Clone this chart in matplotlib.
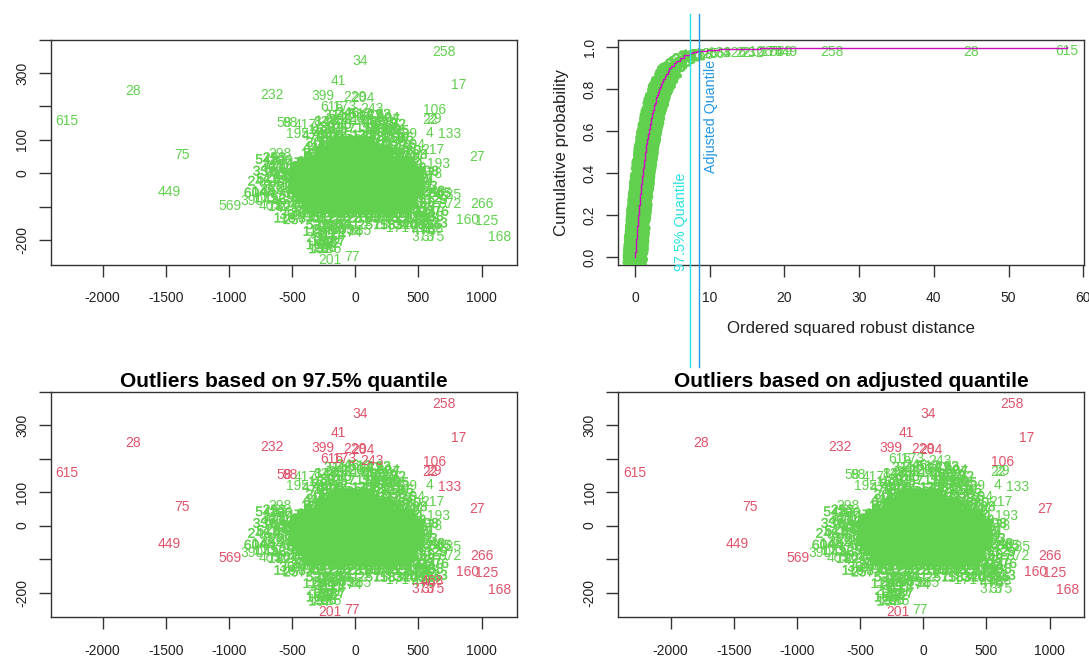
import matplotlib
matplotlib.use("Agg")
import matplotlib.pyplot as plt
import matplotlib.patheffects as pe

plt.rcParams["font.family"] = ["Liberation Sans", "DejaVu Sans"]

W, H = 1089, 656
GREEN = "#61D04F"
RED = "#DF536B"
MAGENTA = "#CD0BBC"
CYAN = "#28E2E5"
BLUE = "#2297E6"
DARK = "#333333"

# points with a readable label: (label, x, y)
named_points = [
    ("258", 702, 368), ("34", 37, 339), ("41", -134, 280), ("17", 818, 267),
    ("232", -662, 239), ("399", -253, 235), ("229", -2, 232), ("204", 63, 230),
    ("106", 631, 195), ("22", 591, 165), ("29", 620, 168), ("4", 586, 125),
    ("133", 744, 121), ("27", 961, 54), ("217", 615, 75), ("193", 657, 32),
    ("178", 599, 2), ("185", 750, -59), ("372", 750, -86), ("266", 1000, -86),
    ("160", 887, -134), ("125", 1040, -137), ("168", 1140, -187), ("373", 538, -185),
    ("375", 617, -185), ("468", 610, -162), ("385", 37, -168), ("171", 336, -158),
    ("77", -24, -247), ("201", -200, -254), ("285", -200, -221), ("569", -992, -92),
    ("390", -815, -78), ("403", -675, -93), ("449", -1473, -51), ("75", -1370, 60),
    ("28", -1763, 251), ("615", -2285, 162), ("58", -560, 155), ("98", -517, 155),
    ("195", -454, 123), ("417", -398, 149), ("82", -266, 158), ("616", -187, 202),
    ("173", -82, 202), ("189", 394, 123), ("194", 458, 89), ("243", 130, 197),
    ("367", 270, 165), ("298", -600, 62), ("236", -300, -190),
]

outliers_975 = ["258", "34", "41", "17", "232", "399", "229", "204", "106", "22",
                "29", "133", "27", "266", "160", "125", "168", "373", "375", "468",
                "201", "77", "569", "449", "75", "28", "615", "58", "98", "616",
                "173", "243"]
outliers_adjusted = ["258", "34", "41", "17", "232", "399", "229", "204", "106",
                     "27", "266", "160", "125", "168", "201", "569", "449", "75",
                     "28", "615"]

# solid centre of the cloud, read row by row
core_row_y = [95, 80, 65, 50, 35, 20, 5, -10, -25, -40, -55, -70, -85, -100]
core_row_x = [
    [-80, -10, 60],
    [-130, -60, 10, 80],
    [-220, -150, -80, -10, 60, 130, 200],
    [-310, -235, -160, -85, -15, 60, 130, 205, 275],
    [-370, -290, -215, -140, -65, 10, 85, 155, 230, 300, 375],
    [-410, -335, -255, -180, -105, -30, 45, 115, 190, 260, 335, 405],
    [-435, -360, -280, -205, -125, -50, 25, 100, 170, 245, 315, 390, 445],
    [-420, -340, -265, -185, -110, -35, 40, 120, 195, 270, 340, 415],
    [-450, -375, -295, -220, -140, -60, 15, 90, 165, 235, 310, 385, 455],
    [-430, -350, -270, -195, -115, -40, 35, 110, 185, 260, 330, 405],
    [-400, -325, -245, -170, -90, -15, 60, 135, 210, 285, 355, 430],
    [-375, -300, -220, -145, -65, 10, 85, 160, 235, 305, 380],
    [-350, -270, -195, -120, -40, 30, 105, 180, 255, 330, 400],
    [-320, -245, -165, -90, -15, 60, 135, 210, 285, 360],
]

# edges of the cloud: dome, left wing, right side, lower band and tail
edge_points = [
    (-160, 178), (-60, 185), (40, 182), (120, 176), (190, 180), (260, 170),
    (-230, 160), (-120, 165), (-20, 170), (60, 162), (150, 158), (240, 155), (310, 150),
    (-280, 135), (-190, 142), (-90, 138), (90, 140), (170, 136), (265, 138), (335, 132),
    (-330, 118), (-240, 112), (-150, 122), (-60, 116), (60, 118), (110, 118), (200, 114), (290, 120), (370, 110),
    (-300, 95), (-210, 100), (-130, 92), (-40, 104), (50, 96), (140, 102), (220, 92), (310, 98), (390, 90),
    (-260, 78), (-170, 82), (-90, 74), (0, 84), (80, 76), (170, 82), (250, 72), (340, 80), (430, 72),
    (-340, 62), (-220, 64), (-120, 58), (-20, 66), (100, 60), (200, 62), (300, 60), (400, 56), (480, 60),
    (-250, 128), (-120, 150), (150, 148), (230, 130), (-180, 110), (120, 86), (300, 108), (-320, 82), (360, 64),
    (-700, 45), (-640, 50), (-590, 42), (-720, 10), (-660, 18), (-600, 22), (-760, -20),
    (-690, -12), (-620, -8), (-570, 5), (-790, -55), (-730, -50), (-660, -45), (-590, -38),
    (-710, -70), (-640, -75), (-575, -70), (-600, -95), (-545, -90), (-510, -120),
    (-480, -135), (-560, -130), (-530, -25), (-520, 5), (-490, 20), (-455, 35), (-510, -40),
    (-480, -55), (-455, -70), (-430, -85), (-400, -100), (-500, -10), (-640, 30), (-560, -15),
    (560, -35), (590, -60), (620, -50), (540, -85), (600, -95), (640, -75), (560, -115),
    (610, -125), (650, -110), (525, -150), (590, -150), (640, -145), (670, -55),
    (520, -25), (490, -10), (475, -40), (500, -55), (450, -70), (470, -85), (435, -100),
    (470, 20), (460, 5), (420, 50), (445, 35), (500, -120), (540, -10), (570, 10),
    (-420, -115), (-340, -115), (-260, -115), (-180, -115), (-105, -115), (-30, -115),
    (45, -115), (120, -115), (195, -115), (270, -115), (345, -115), (420, -115),
    (-360, -130), (-280, -130), (-200, -130), (-125, -130), (-50, -130), (25, -130),
    (100, -130), (175, -130), (250, -130), (325, -130), (400, -130), (480, -130), (540, -130),
    (-300, -150), (-220, -150), (-130, -150), (-60, -150), (110, -150), (230, -150),
    (290, -150), (400, -150), (470, -150), (540, -165),
    (-260, -200), (-230, -175), (-190, -180), (-280, -222), (-240, -218), (-210, -205), (-330, -170),
    (-170, -160), (-100, -165), (-40, -172), (-250, -165), (-300, -210), (-170, -200),
]

core_labels = ["311", "246", "512", "287", "193", "604", "148", "355", "220", "171",
               "436", "529", "182", "164", "391", "257", "118", "583", "340", "205",
               "476", "189", "312", "551", "137", "268", "422", "115", "596", "303",
               "174", "248", "160", "487", "329", "111", "538", "276", "402", "156",
               "133", "565", "214", "349", "497", "126", "380", "152", "241", "608",
               "163", "295", "444", "185", "521", "198", "367", "130", "459", "238",
               "576", "101", "318", "415", "167", "543", "253", "186", "331", "490"]

# ordered squared robust distance against cumulative probability
cdf_distance = [0.0, 0.03, 0.05, 0.08, 0.10, 0.13, 0.16, 0.18, 0.21, 0.24, 0.27, 0.30,
                0.33, 0.35, 0.38, 0.42, 0.45, 0.48, 0.51, 0.54, 0.58, 0.61, 0.64, 0.68,
                0.71, 0.75, 0.79, 0.82, 0.86, 0.90, 0.94, 0.98, 1.02, 1.06, 1.11, 1.15,
                1.20, 1.24, 1.29, 1.34, 1.39, 1.44, 1.49, 1.54, 1.60, 1.65, 1.71, 1.77,
                1.83, 1.90, 1.96, 2.03, 2.10, 2.17, 2.25, 2.33, 2.41, 2.49, 2.58, 2.68,
                2.77, 2.88, 2.98, 3.10, 3.22, 3.35, 3.49, 3.64, 3.79, 3.97, 4.16, 4.37,
                4.61, 4.87, 5.18, 5.55, 5.99, 6.57, 7.38, 7.8, 8.3, 8.9, 9.6, 10.4, 11.3,
                12.3, 13.4, 14.5, 15.6, 16.8, 17.8, 18.7, 19.5, 20.2, 26.4, 45.0, 57.8]
cdf_prob = [0.0, 0.0125, 0.025, 0.0375, 0.05, 0.0625, 0.075, 0.0875, 0.10, 0.1125, 0.125,
            0.1375, 0.15, 0.1625, 0.175, 0.1875, 0.20, 0.2125, 0.225, 0.2375, 0.25, 0.2625,
            0.275, 0.2875, 0.30, 0.3125, 0.325, 0.3375, 0.35, 0.3625, 0.375, 0.3875, 0.40,
            0.4125, 0.425, 0.4375, 0.45, 0.4625, 0.475, 0.4875, 0.50, 0.5125, 0.525, 0.5375,
            0.55, 0.5625, 0.575, 0.5875, 0.60, 0.6125, 0.625, 0.6375, 0.65, 0.6625, 0.675,
            0.6875, 0.70, 0.7125, 0.725, 0.7375, 0.75, 0.7625, 0.775, 0.7875, 0.80, 0.8125,
            0.825, 0.8375, 0.85, 0.8625, 0.875, 0.8875, 0.90, 0.9125, 0.925, 0.9375, 0.95,
            0.9625, 0.975, 0.98, 0.983, 0.985, 0.987, 0.989, 0.991, 0.992, 0.993, 0.994,
            0.995, 0.996, 0.997, 0.9975, 0.998, 0.9985, 0.9988, 0.9994, 1.0]
cdf_tail_labels = ["27", "168", "125", "266", "133", "4", "126", "22", "232", "106",
                   "17", "75", "569", "449", "258", "28", "615"]

quantile_975 = 7.38
quantile_adjusted = 8.6

scatter_xticks = [-2000, -1500, -1000, -500, 0, 500, 1000]
scatter_yticks = [-200, -100, 0, 100, 200, 300, 400]
scatter_yticklabels = ["-200", "", "0", "100", "", "300", ""]
cdf_xticks = [0, 10, 20, 30, 40, 50, 60]
cdf_yticks = [0.0, 0.2, 0.4, 0.6, 0.8, 1.0]

fig = plt.figure(figsize=(W / 100, H / 100), dpi=100)


def panel(left, right, top, bottom):
    ax = fig.add_axes([left / W, 1 - bottom / H, (right - left) / W, (bottom - top) / H])
    for s in ax.spines.values():
        s.set_linewidth(1.0)
        s.set_color(DARK)
    ax.tick_params(axis="x", length=8.5, width=1.0, color=DARK, labelsize=10,
                   pad=10.5, labelcolor="#222222")
    ax.tick_params(axis="y", length=8.5, width=1.0, color=DARK, labelsize=10,
                   pad=7, labelcolor="#222222")
    return ax


def label_at(ax, txt, x, y, color, drop=0.0, stroke=0.0):
    t = ax.annotate(txt, (x, y), xytext=(0, -drop), textcoords="offset points",
                    ha="center", va="center_baseline", fontsize=10, color=color,
                    clip_on=True, annotation_clip=False)
    if stroke:
        # piled-up labels merge into a solid mass in the original
        t.set_path_effects([pe.withStroke(linewidth=stroke, foreground=color)])


def scatter_panel(left, right, top, bottom, xlim, ylim, outliers, title=None):
    ax = panel(left, right, top, bottom)
    ax.set_xlim(xlim)
    ax.set_ylim(ylim)
    i = 0
    for x, y in edge_points:
        label_at(ax, core_labels[i % len(core_labels)], x, y, GREEN, stroke=0.15)
        i += 1
    for y, xs in zip(core_row_y, core_row_x):
        for x in xs:
            label_at(ax, core_labels[i % len(core_labels)], x, y, GREEN, stroke=2.2)
            i += 1
    for name, x, y in named_points:
        label_at(ax, name, x, y, RED if name in outliers else GREEN)
    ax.set_xticks(scatter_xticks)
    ax.set_xticklabels([str(v) for v in scatter_xticks])
    ax.set_yticks(scatter_yticks)
    ax.set_yticklabels(scatter_yticklabels, rotation=90, va="center")
    if title:
        ax.set_title(title, fontsize=15, fontweight="bold", pad=3.5)
    return ax


scatter_panel(51, 516.7, 39.5, 265, (-2409, 1278), (-274, 400), [])
scatter_panel(51, 516.7, 391.7, 617.3, (-2409, 1278), (-274, 400), outliers_975,
              "Outliers based on 97.5% quantile")
scatter_panel(618.3, 1084, 391.7, 617.3, (-2415, 1272), (-274, 400), outliers_adjusted,
              "Outliers based on adjusted quantile")

# cumulative probability panel
ax = panel(618.3, 1084, 39.5, 265)
ax.set_xlim(-2.23, 60.1)
ax.set_ylim(-0.037, 1.038)
tail_start = len(cdf_distance) - len(cdf_tail_labels)
for i, (d, p) in enumerate(zip(cdf_distance, cdf_prob)):
    if i >= tail_start:
        label_at(ax, cdf_tail_labels[i - tail_start], d, p, GREEN, drop=1.8)
    elif d > 5.0:
        label_at(ax, core_labels[i % len(core_labels)], d, p, GREEN, drop=1.8, stroke=1.0)
    else:
        label_at(ax, core_labels[i % len(core_labels)], d, p, GREEN, drop=1.8, stroke=2.4)
ax.step(cdf_distance, cdf_prob, where="post", color=MAGENTA, lw=1.0, zorder=5)
ax.axvline(quantile_975, ymin=-0.452, ymax=1.112, color=CYAN, lw=1.0, clip_on=False, zorder=6)
ax.axvline(quantile_adjusted, ymin=-0.452, ymax=1.112, color=BLUE, lw=1.0, clip_on=False, zorder=6)
ax.text(6.16, -0.065, "97.5% Quantile", color=CYAN, rotation=90, ha="center", va="bottom", fontsize=10.4)
ax.text(10.17, 0.40, "Adjusted Quantile", color=BLUE, rotation=90, ha="center", va="bottom", fontsize=10.3)
ax.set_xticks(cdf_xticks)
ax.set_xticklabels([str(v) for v in cdf_xticks])
ax.set_yticks(cdf_yticks)
ax.set_yticklabels(["%.1f" % v for v in cdf_yticks], rotation=90, va="center")
ax.set_xlabel("Ordered squared robust distance", fontsize=12.2, color="#222222", labelpad=11)
ax.set_ylabel("Cumulative probability", fontsize=12.2, color="#222222", labelpad=10)

fig.savefig("out.png", dpi=100)
